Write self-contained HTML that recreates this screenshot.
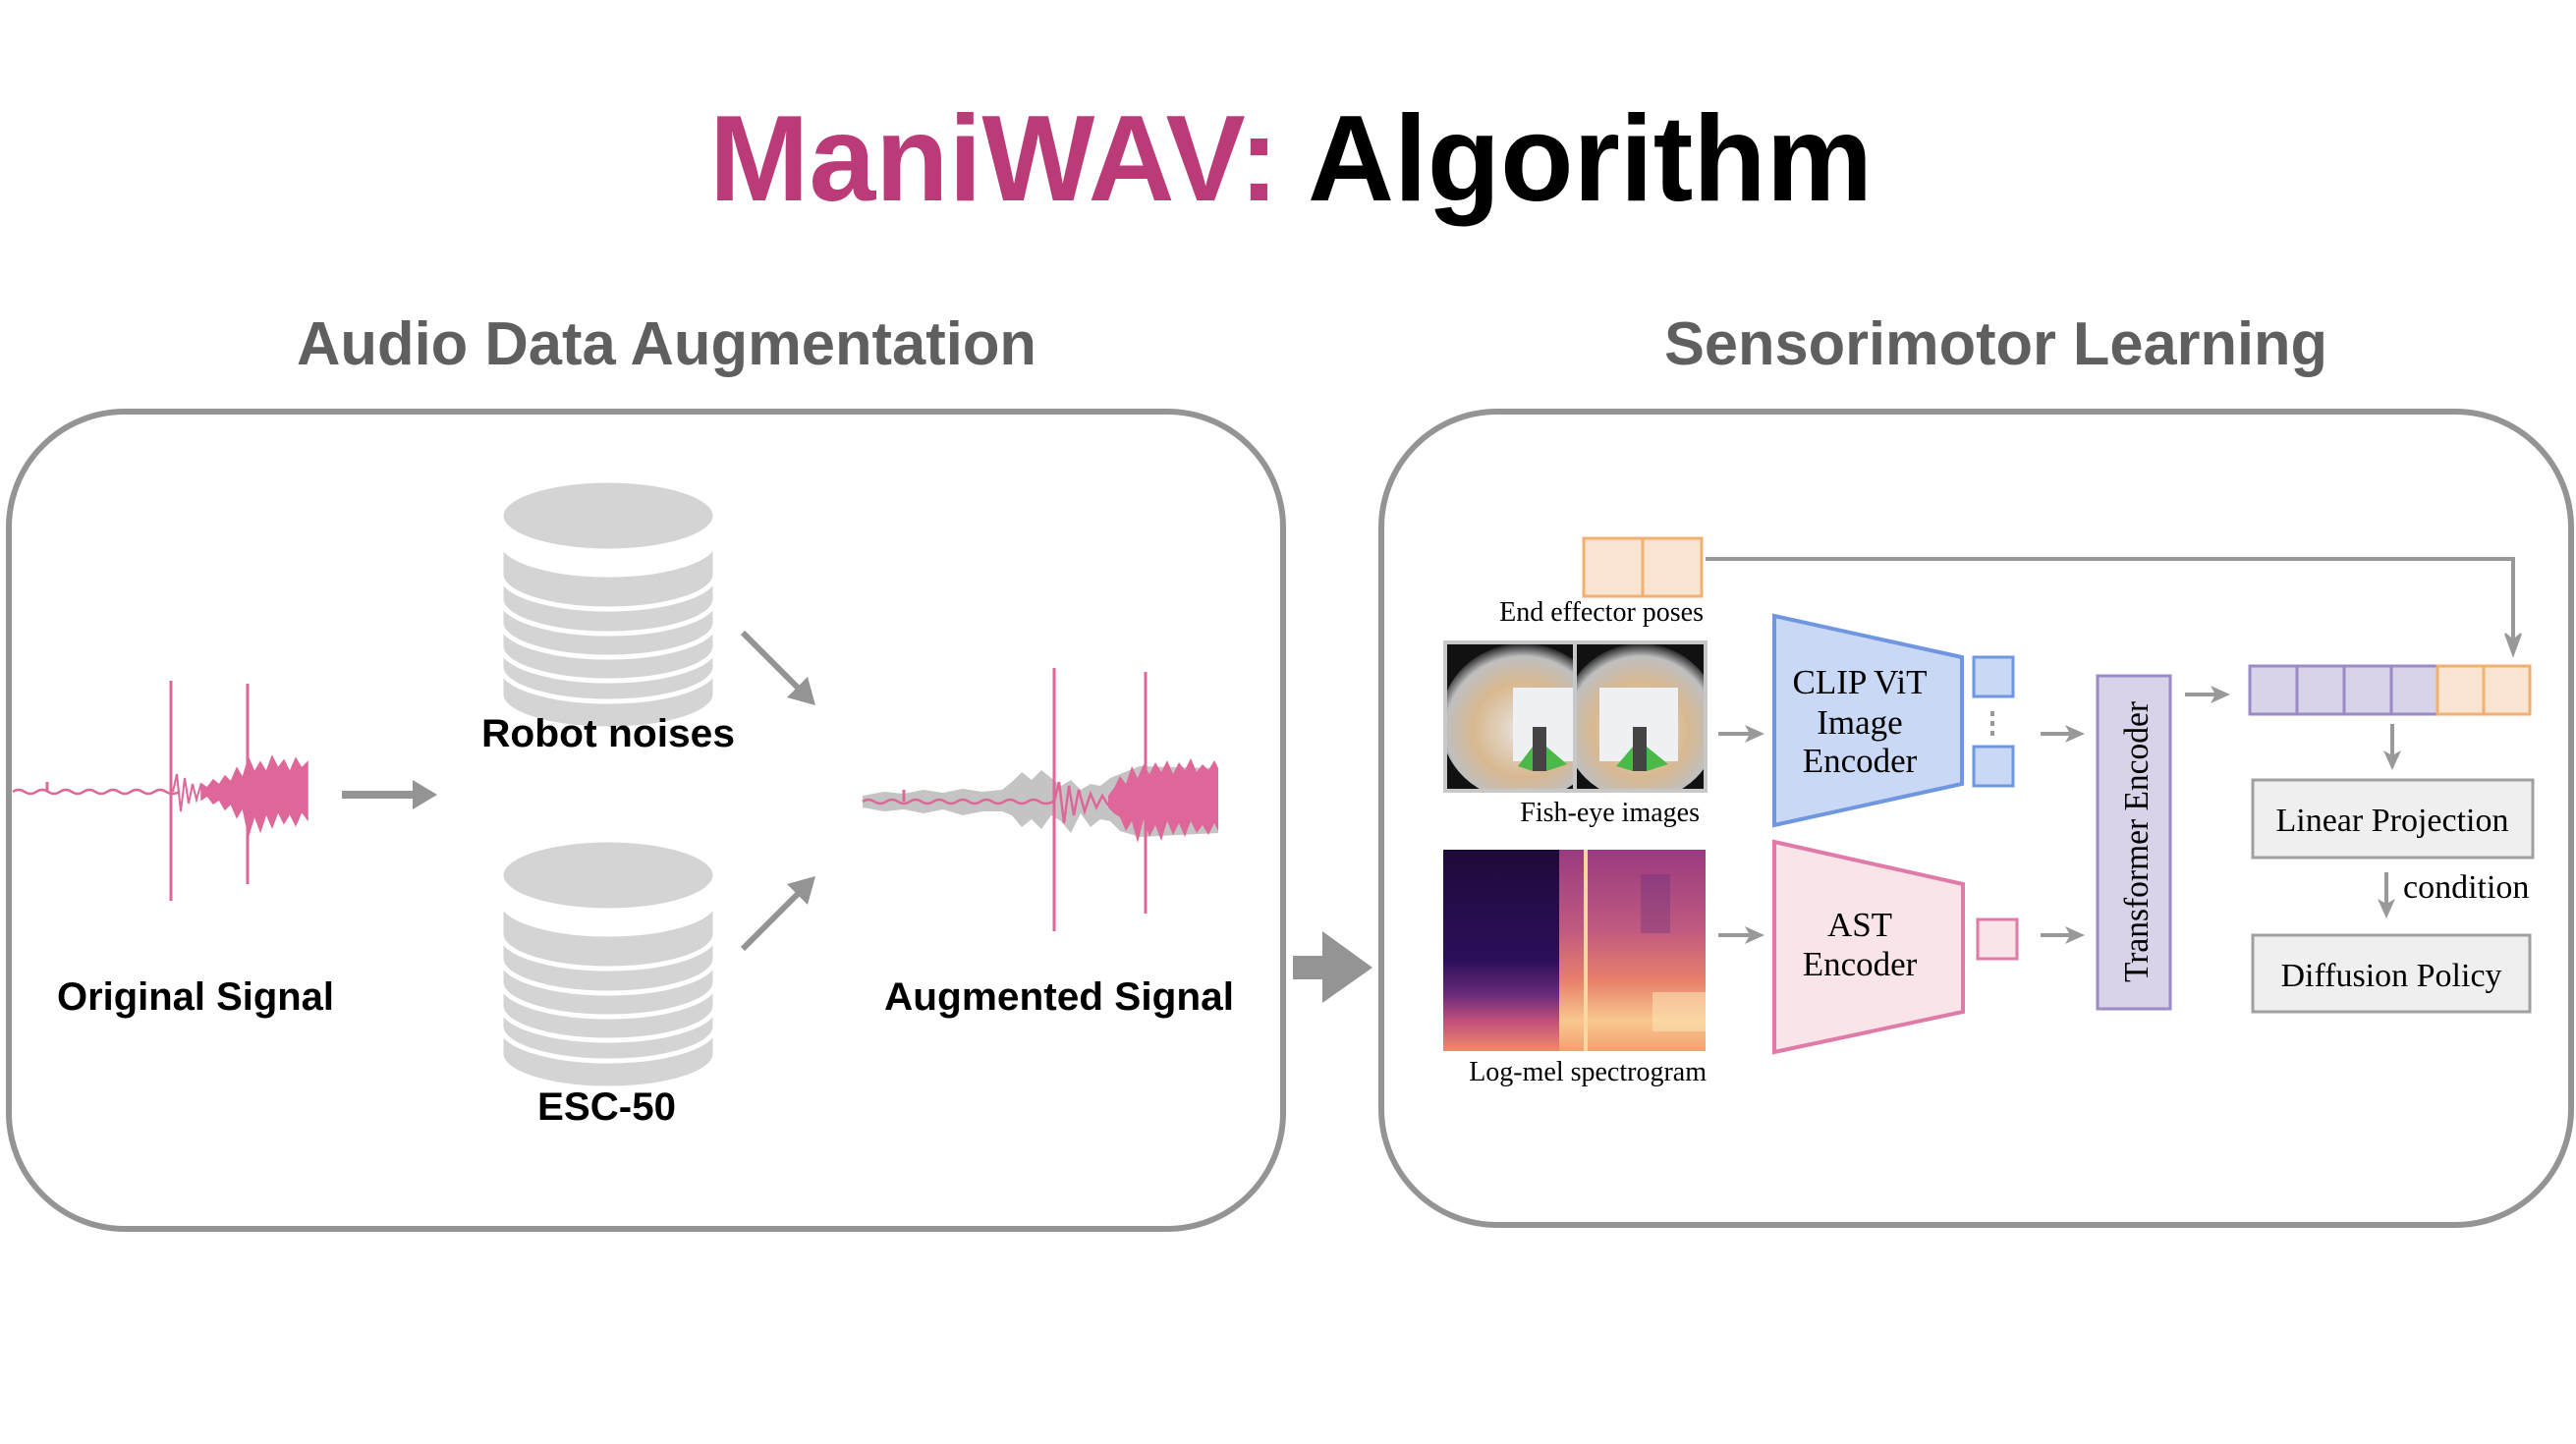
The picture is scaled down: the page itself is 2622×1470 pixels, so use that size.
<!DOCTYPE html>
<html><head><meta charset="utf-8"><style>html,body{margin:0;padding:0;background:#fff}svg{display:block}</style></head>
<body>
<svg width="2622" height="1470" viewBox="0 0 2622 1470" xmlns="http://www.w3.org/2000/svg">
<defs>
<linearGradient id="spL" x1="0" y1="0" x2="0" y2="1"><stop offset="0" stop-color="#1e0a3a"/><stop offset="0.55" stop-color="#2c0f5a"/><stop offset="0.72" stop-color="#6a2a7a"/><stop offset="0.85" stop-color="#c0507a"/><stop offset="1" stop-color="#f08a6a"/></linearGradient>
<linearGradient id="spR" x1="0" y1="0" x2="0" y2="1"><stop offset="0" stop-color="#9a3a80"/><stop offset="0.4" stop-color="#c05a80"/><stop offset="0.65" stop-color="#e8806a"/><stop offset="0.85" stop-color="#f8c890"/><stop offset="1" stop-color="#f4a070"/></linearGradient>
<radialGradient id="fe" cx="0.5" cy="0.55" r="0.55"><stop offset="0" stop-color="#e8e4e0"/><stop offset="0.55" stop-color="#d8b890"/><stop offset="0.85" stop-color="#bfbfbf"/><stop offset="1" stop-color="#202020"/></radialGradient>
<clipPath id="c1"><rect x="1473" y="656" width="128" height="147"/></clipPath>
<clipPath id="c2"><rect x="1605" y="656" width="129" height="147"/></clipPath>
</defs>

<text x="722" y="204" font-family="Liberation Sans, sans-serif" font-weight="bold" font-size="124" textLength="1184" lengthAdjust="spacingAndGlyphs"><tspan fill="#bb3a78">ManiWAV:</tspan><tspan fill="#000"> Algorithm</tspan></text>
<text x="302" y="371" font-family="Liberation Sans, sans-serif" font-weight="bold" font-size="62" fill="#5f5f5f" textLength="753" lengthAdjust="spacingAndGlyphs">Audio Data Augmentation</text>
<text x="1694" y="371" font-family="Liberation Sans, sans-serif" font-weight="bold" font-size="62" fill="#5f5f5f" textLength="675" lengthAdjust="spacingAndGlyphs">Sensorimotor Learning</text>

<rect x="9" y="419" width="1297" height="832" rx="118" ry="118" fill="none" stroke="#949494" stroke-width="6"/>
<rect x="1406" y="419" width="1211" height="828" rx="118" ry="118" fill="none" stroke="#949494" stroke-width="6"/>
<path d="M1316,973 H1346 V948 L1397,985 L1346,1021 V997 H1316 z" fill="#949494"/>

<!-- Original waveform -->
<g stroke="#de6699" fill="#de6699">
<path d="M13,806 q6,-4 12,0 t12,0 t12,0 t12,0 t12,0 t12,0 t12,0 t12,0 t12,0 t12,0 t12,0 t12,0 t12,0 t14,0" fill="none" stroke-width="2.5"/>
<line x1="48" y1="806" x2="48" y2="796" stroke-width="3"/>
<polyline points="176,806 180,788 184,826 188,792 192,818 196,798 200,814 204,800 208,812" fill="none" stroke-width="2"/>
<path d="M205,798 L211,802 217,794 223,799 229,790 235,796 241,782 247,792 253,772 259,786 265,776 271,786 277,770 283,782 289,774 295,786 301,772 307,782 313,776 L313,834 307,826 301,840 295,828 289,838 283,826 277,842 271,828 265,846 259,830 253,850 247,822 241,832 235,818 229,824 223,814 217,818 211,810 205,814 z" stroke-width="1.5"/>
<line x1="174" y1="693" x2="174" y2="917" stroke-width="3"/>
<line x1="252" y1="696" x2="252" y2="900" stroke-width="3"/>
</g>
<path d="M348,805 H420 V794 L445,809 L420,824 V813 H348 z" fill="#949494"/>

<!-- Augmented waveform -->
<g>
<path d="M878,810 L900,806 920,808 940,804 960,807 980,803 1000,806 1020,804 1030,796 1040,786 1050,794 1060,784 1070,792 1080,800 1090,794 1100,804 1110,798 1120,800 1130,792 1140,788 1160,780 1240,782 L1240,848 1160,852 1140,846 1130,836 1120,834 1110,842 1100,828 1090,848 1080,836 1070,830 1060,844 1050,834 1040,842 1030,830 1020,826 1000,826 980,830 960,824 940,828 920,824 900,826 878,822 z" fill="#c4c4c4"/>
<path d="M878,816 q6,-4 12,0 t12,0 t12,0 t12,0 t12,0 t12,0 t12,0 t12,0 t12,0 t12,0 t12,0 t12,0 t12,0 t12,0 t12,0 t14,0" fill="none" stroke="#de6699" stroke-width="2.5"/>
<polyline points="1073,816 1078,796 1083,838 1088,800 1093,830 1098,804 1104,826 1110,808 1116,822 1122,810 1128,820" fill="none" stroke="#de6699" stroke-width="2.5"/>
<path d="M1128,810 L1134,802 1140,790 1146,798 1152,780 1158,792 1164,778 1170,788 1176,776 1182,786 1188,774 1194,788 1200,776 1206,784 1212,772 1218,786 1224,778 1230,784 1236,774 1240,782 L1240,846 1236,838 1230,850 1224,840 1218,848 1212,836 1206,852 1200,838 1194,850 1188,836 1182,856 1176,840 1170,852 1164,834 1158,858 1152,836 1146,846 1140,832 1134,828 1128,822 z" fill="#de6699"/>
<line x1="1073" y1="680" x2="1073" y2="948" stroke="#de6699" stroke-width="3"/>
<line x1="1166" y1="684" x2="1166" y2="930" stroke="#de6699" stroke-width="3"/>
<line x1="920" y1="816" x2="920" y2="804" stroke="#de6699" stroke-width="3"/>
</g>

<!-- Cylinders -->
<g fill="#d4d4d4" stroke="#fff" stroke-width="5">
<path d="M510,672 A109,35 0 0 0 728,672 V707 A109,35 0 0 1 510,707 z"/>
<path d="M510,650 A109,35 0 0 0 728,650 V679 A109,35 0 0 1 510,679 z"/>
<path d="M510,623 A109,35 0 0 0 728,623 V658 A109,35 0 0 1 510,658 z"/>
<path d="M510,599 A109,35 0 0 0 728,599 V634 A109,35 0 0 1 510,634 z"/>
<path d="M510,575 A109,35 0 0 0 728,575 V610 A109,35 0 0 1 510,610 z"/>
<path d="M510,550 A109,35 0 0 0 728,550 V585 A109,35 0 0 1 510,585 z"/>
<ellipse cx="619" cy="525" rx="109" ry="36"/>
</g>
<g fill="#d4d4d4" stroke="#fff" stroke-width="5" transform="translate(0,366)">
<path d="M510,672 A109,35 0 0 0 728,672 V707 A109,35 0 0 1 510,707 z"/>
<path d="M510,650 A109,35 0 0 0 728,650 V679 A109,35 0 0 1 510,679 z"/>
<path d="M510,623 A109,35 0 0 0 728,623 V658 A109,35 0 0 1 510,658 z"/>
<path d="M510,599 A109,35 0 0 0 728,599 V634 A109,35 0 0 1 510,634 z"/>
<path d="M510,575 A109,35 0 0 0 728,575 V610 A109,35 0 0 1 510,610 z"/>
<path d="M510,550 A109,35 0 0 0 728,550 V585 A109,35 0 0 1 510,585 z"/>
<ellipse cx="619" cy="525" rx="109" ry="36"/>
</g>
<line x1="756" y1="644" x2="815" y2="703" stroke="#949494" stroke-width="6"/>
<path d="M830,718 L801,710 L822,689 z" fill="#949494"/>
<line x1="756" y1="966" x2="815" y2="907" stroke="#949494" stroke-width="6"/>
<path d="M830,892 L801,900 L822,921 z" fill="#949494"/>

<g font-family="Liberation Sans, sans-serif" font-weight="bold" font-size="40" fill="#000">
<text x="490" y="760" textLength="258" lengthAdjust="spacingAndGlyphs">Robot noises</text>
<text x="547" y="1140" textLength="141" lengthAdjust="spacingAndGlyphs">ESC-50</text>
<text x="58" y="1028" textLength="282" lengthAdjust="spacingAndGlyphs">Original Signal</text>
<text x="900" y="1028" textLength="356" lengthAdjust="spacingAndGlyphs">Augmented Signal</text>
</g>

<!-- Right panel -->
<rect x="1612" y="548" width="60" height="59" fill="#f8e4d0" stroke="#f0b070" stroke-width="3"/>
<rect x="1672" y="548" width="60" height="59" fill="#f8e4d0" stroke="#f0b070" stroke-width="3"/>
<polyline points="1736,569 2558,569 2558,652" fill="none" stroke="#999" stroke-width="4"/>
<path d="M2558,667 L2550,645 L2558,652 L2566,645 z" fill="#999" stroke="#999" stroke-width="2"/>

<g font-family="Liberation Serif, serif" font-size="28" fill="#000">
<text x="1734" y="632" text-anchor="end">End effector poses</text>
<text x="1730" y="836" text-anchor="end">Fish-eye images</text>
<text x="1737" y="1100" text-anchor="end">Log-mel spectrogram</text>
</g>

<!-- fisheye images -->
<rect x="1469" y="652" width="269" height="155" fill="#c8c8c8"/>
<rect x="1473" y="656" width="128" height="147" fill="#111"/>
<rect x="1605" y="656" width="129" height="147" fill="#111"/>
<g clip-path="url(#c1)">
<ellipse cx="1550" cy="735" rx="84" ry="80" fill="url(#fe)"/>
<rect x="1540" y="700" width="61" height="75" fill="#eef0f4"/>
<rect x="1560" y="740" width="14" height="45" fill="#444"/>
<path d="M1545,780 L1560,760 L1560,785 z M1574,760 L1595,778 L1574,785 z" fill="#4cb848"/>
</g>
<g clip-path="url(#c2)">
<ellipse cx="1670" cy="735" rx="80" ry="80" fill="url(#fe)"/>
<rect x="1628" y="700" width="80" height="75" fill="#eef0f4"/>
<rect x="1662" y="740" width="14" height="45" fill="#444"/>
<path d="M1645,780 L1662,760 L1662,785 z M1676,760 L1698,778 L1676,785 z" fill="#4cb848"/>
</g>

<!-- spectrogram -->
<rect x="1469" y="865" width="118" height="205" fill="url(#spL)"/>
<rect x="1587" y="865" width="149" height="205" fill="url(#spR)"/>
<rect x="1612" y="865" width="4" height="205" fill="#f8d8a0"/>
<rect x="1682" y="1010" width="54" height="40" fill="#fbe0b0" opacity="0.6"/>
<rect x="1670" y="890" width="30" height="60" fill="#5a2a7a" opacity="0.3"/>

<g fill="none" stroke="#999" stroke-width="4">
<line x1="1749" y1="747" x2="1782" y2="747"/><line x1="1749" y1="952" x2="1782" y2="952"/>
<line x1="2077" y1="747" x2="2108" y2="747"/><line x1="2077" y1="952" x2="2108" y2="952"/>
<line x1="2224" y1="707" x2="2256" y2="707"/>
<line x1="2435" y1="737" x2="2435" y2="770"/>
<line x1="2429" y1="888" x2="2429" y2="921"/>
</g>
<g fill="#999">
<path d="M1796,747 L1776,738 L1781,747 L1776,756 z"/><path d="M1796,952 L1776,943 L1781,952 L1776,961 z"/>
<path d="M2122,747 L2102,738 L2107,747 L2102,756 z"/><path d="M2122,952 L2102,943 L2107,952 L2102,961 z"/>
<path d="M2270,707 L2250,698 L2255,707 L2250,716 z"/>
<path d="M2435,784 L2426,764 L2435,769 L2444,764 z"/>
<path d="M2429,935 L2420,915 L2429,920 L2438,915 z"/>
</g>

<polygon points="1806,627 1997,669 1997,798 1806,840" fill="#c9d8f4" stroke="#6f96e0" stroke-width="4"/>
<polygon points="1806,857 1998,900 1998,1030 1806,1071" fill="#f9e4e8" stroke="#e07aa8" stroke-width="4"/>
<rect x="2009" y="669" width="40" height="40" fill="#c9d8f4" stroke="#6f96e0" stroke-width="3"/>
<rect x="2009" y="760" width="40" height="40" fill="#c9d8f4" stroke="#6f96e0" stroke-width="3"/>
<g fill="#999"><rect x="2026" y="724" width="4" height="5"/><rect x="2026" y="734" width="4" height="5"/><rect x="2026" y="744" width="4" height="5"/></g>
<rect x="2013" y="936" width="40" height="40" fill="#f9e4e8" stroke="#e07aa8" stroke-width="3"/>
<g font-family="Liberation Serif, serif" font-size="35" fill="#000" text-anchor="middle">
<text x="1893" y="706">CLIP ViT</text>
<text x="1893" y="747">Image</text>
<text x="1893" y="786">Encoder</text>
<text x="1893" y="953">AST</text>
<text x="1893" y="993">Encoder</text>
</g>

<rect x="2135" y="688" width="74" height="339" fill="#d8d3e8" stroke="#9b8ac8" stroke-width="3"/>
<text transform="translate(2186,857) rotate(-90)" font-family="Liberation Serif, serif" font-size="35" text-anchor="middle" textLength="286" lengthAdjust="spacingAndGlyphs">Transformer Encoder</text>

<g stroke-width="3">
<rect x="2290" y="678" width="48" height="49" fill="#d8d3e8" stroke="#9b8ac8"/>
<rect x="2338" y="678" width="48" height="49" fill="#d8d3e8" stroke="#9b8ac8"/>
<rect x="2386" y="678" width="48" height="49" fill="#d8d3e8" stroke="#9b8ac8"/>
<rect x="2434" y="678" width="47" height="49" fill="#d8d3e8" stroke="#9b8ac8"/>
<rect x="2481" y="678" width="47" height="49" fill="#f8e4d0" stroke="#f0b070"/>
<rect x="2528" y="678" width="47" height="49" fill="#f8e4d0" stroke="#f0b070"/>
</g>
<rect x="2293" y="794" width="285" height="79" fill="#efefef" stroke="#a0a0a0" stroke-width="3"/>
<rect x="2293" y="952" width="282" height="78" fill="#efefef" stroke="#a0a0a0" stroke-width="3"/>
<g font-family="Liberation Serif, serif" font-size="34" fill="#000">
<text x="2435" y="846" text-anchor="middle">Linear Projection</text>
<text x="2434" y="1004" text-anchor="middle">Diffusion Policy</text>
<text x="2446" y="914">condition</text>
</g>
</svg>
</body></html>
